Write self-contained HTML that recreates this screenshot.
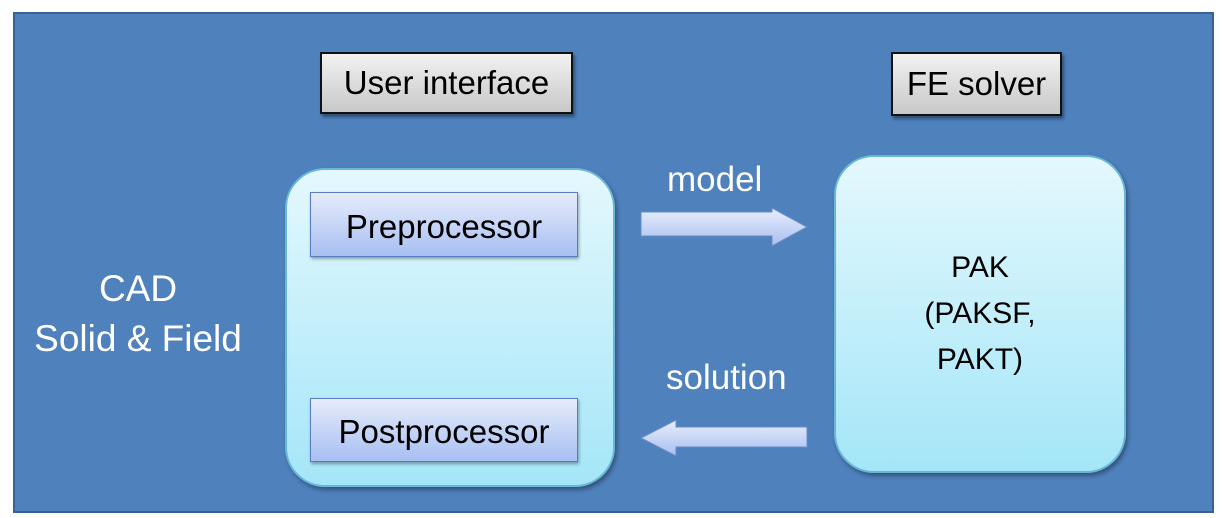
<!DOCTYPE html>
<html><head><style>
body{margin:0;width:1222px;height:518px;background:#fff;position:relative;overflow:hidden;font-family:"Liberation Sans",sans-serif}
.a{position:absolute;box-sizing:border-box}
.t{display:flex;align-items:center;justify-content:center;text-align:center;white-space:nowrap}
.g{background:linear-gradient(#f2f2f2,#c8c8c8);border:2px solid #111;box-shadow:2px 3px 3px rgba(0,0,0,.4);font-size:33px;color:#000}
.rb{background:linear-gradient(#e4f8fd,#a4e6f8);border:2px solid #6ab8d8;border-radius:40px;box-shadow:2px 3px 4px rgba(0,0,0,.35)}
.pb{background:linear-gradient(#e6ecfb,#a8bff2);border:1.5px solid #5a7cc0;font-size:33px;color:#000;box-shadow:1px 2px 3px rgba(0,0,0,.35);padding-top:4px}
.w{color:#fff;font-size:35px;white-space:nowrap}
</style></head><body>
<div class="a" style="left:13px;top:12px;width:1201px;height:501px;background:#4f81bd;border:2px solid #3a6194"></div>
<div class="a t g" style="left:320px;top:52px;width:253px;height:62px">User interface</div>
<div class="a t g" style="left:891px;top:52px;width:171px;height:64px">FE solver</div>
<div class="a rb" style="left:285px;top:168px;width:330px;height:319px"></div>
<div class="a t pb" style="left:310px;top:192px;width:268px;height:65px">Preprocessor</div>
<div class="a t pb" style="left:310px;top:398px;width:268px;height:64px">Postprocessor</div>
<div class="a rb t" style="left:834px;top:155px;width:292px;height:318px;font-size:30px;line-height:46px;color:#000">PAK<br>(PAKSF,<br>PAKT)</div>
<div class="a t w" style="left:20px;top:262px;width:236px;height:104px;line-height:50px;font-size:37px">CAD<br>Solid &amp; Field</div>
<div class="a w" style="left:667px;top:160px">model</div>
<div class="a w" style="left:666px;top:358px">solution</div>
<svg class="a" style="left:0;top:0" width="1222" height="518">
<defs><linearGradient id="ar" x1="0" y1="0" x2="0" y2="1"><stop offset="0" stop-color="#e8eefb"/><stop offset="1" stop-color="#a9bff0"/></linearGradient></defs>
<polygon points="641,212 772,212 772,208 807,227 772,246 772,236 641,236" fill="url(#ar)" stroke="#6a8bc8" stroke-width="1"/>
<polygon points="807,427 676,427 676,420 641,438 676,456 676,447 807,447" fill="url(#ar)" stroke="#6a8bc8" stroke-width="1"/>
</svg>
</body></html>
